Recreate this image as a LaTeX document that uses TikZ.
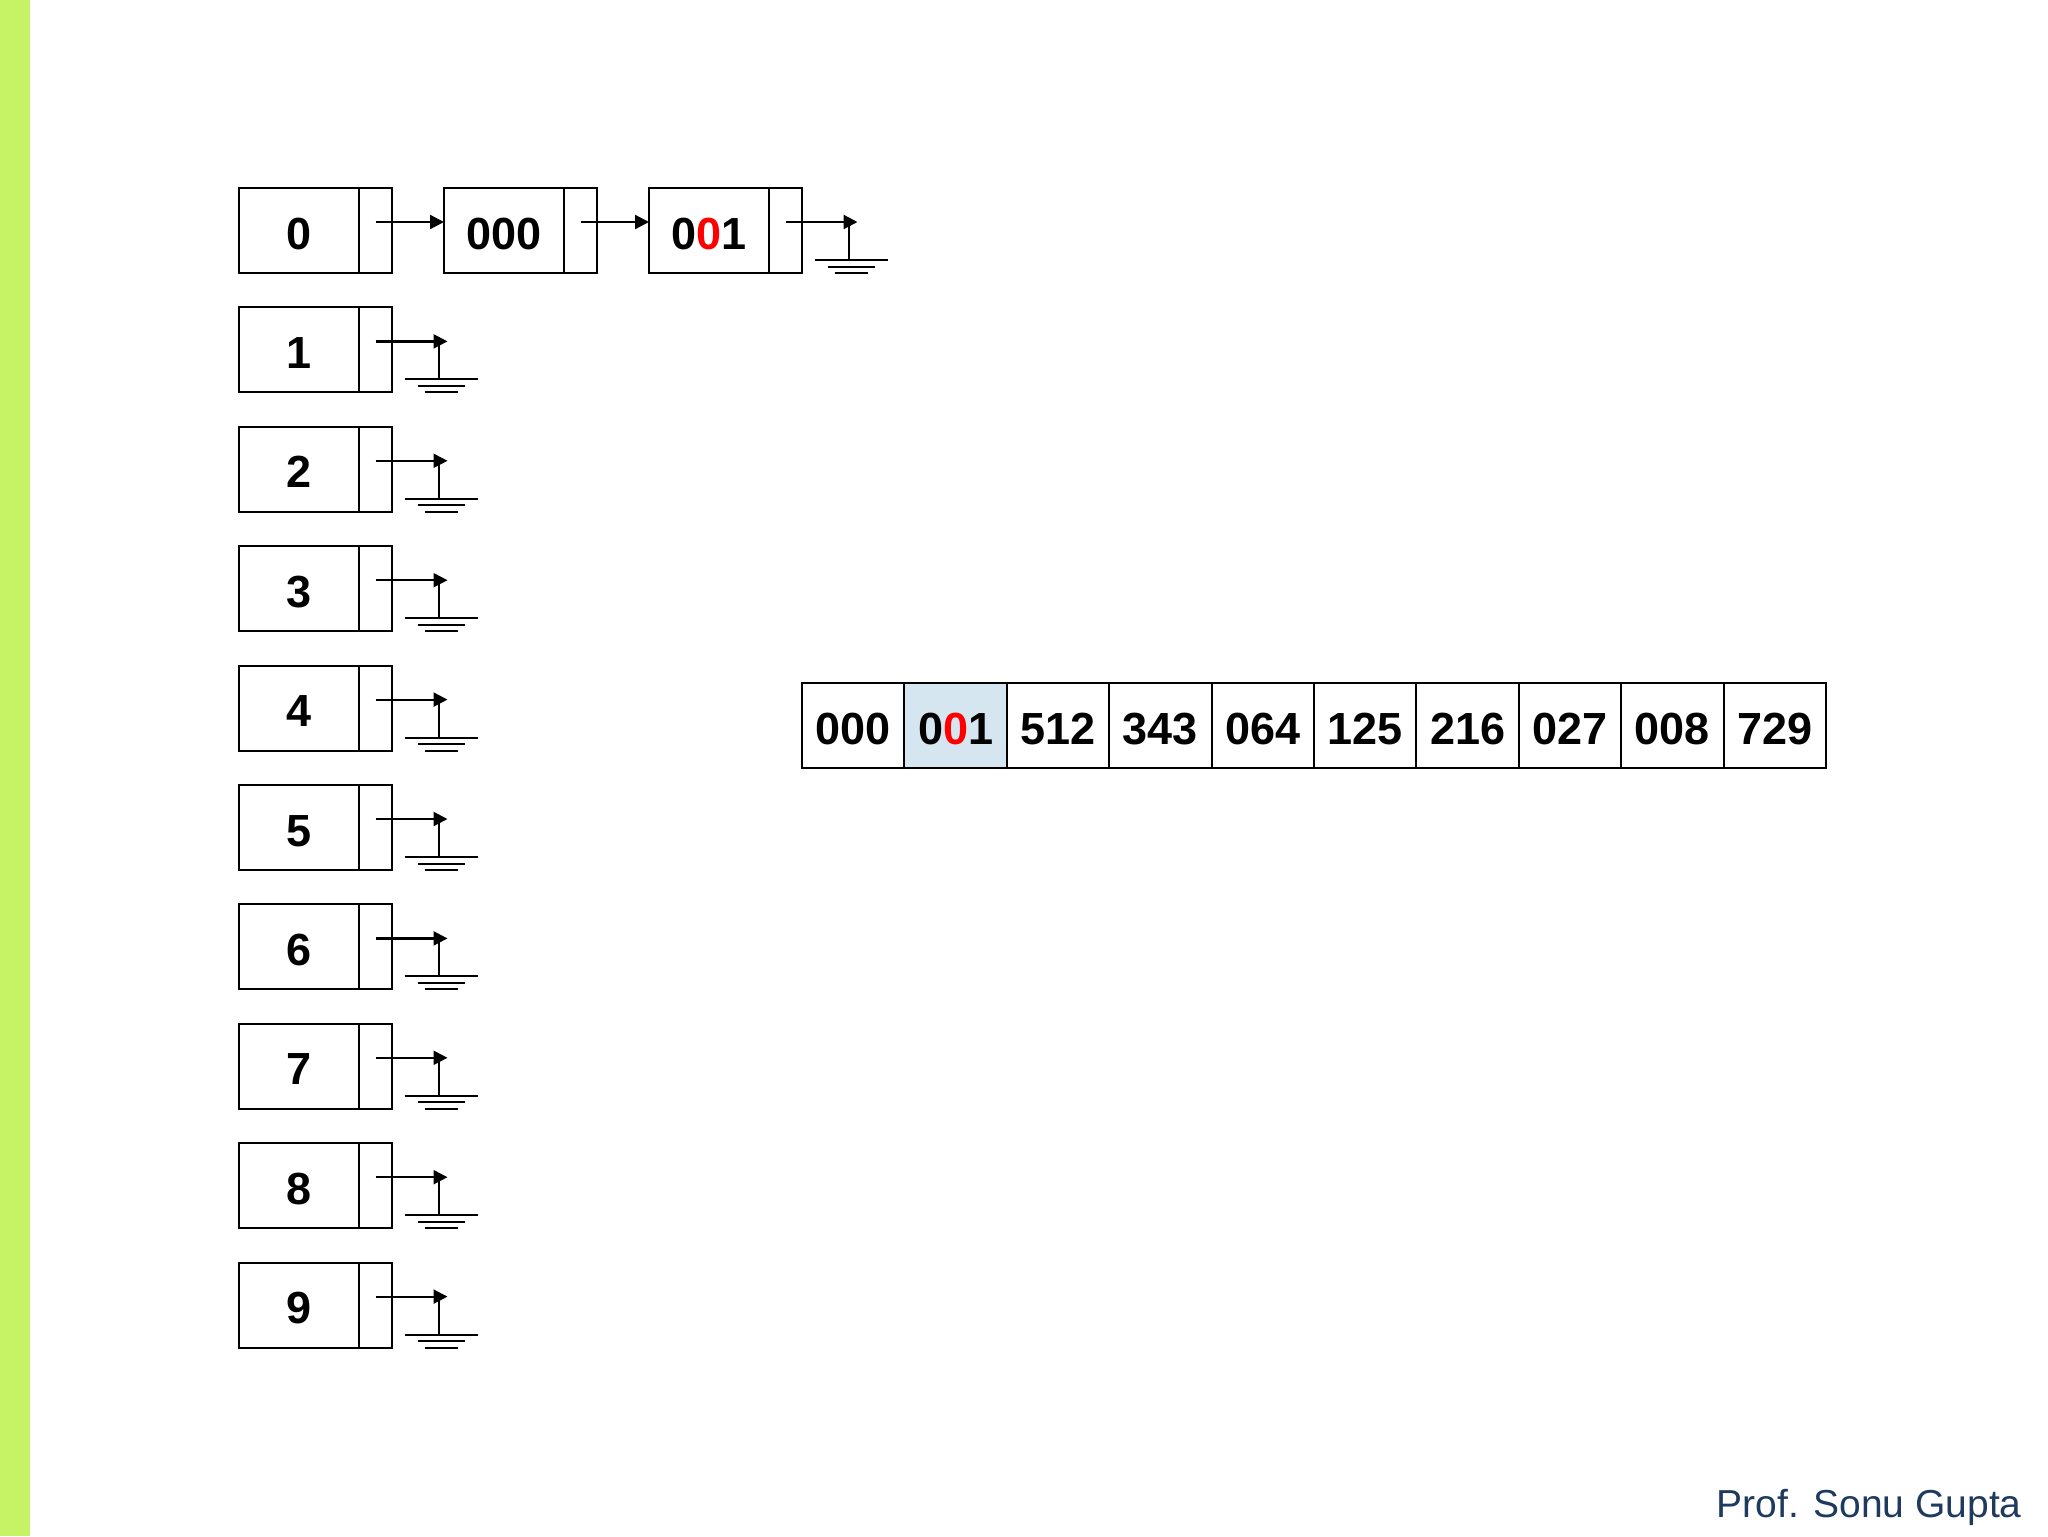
\documentclass[tikz,border=0pt]{standalone}
\usepackage{fontspec}
\setmainfont{Liberation Sans}
\usepackage{xcolor}
\usepackage{tikz}
\usetikzlibrary{arrows.meta,positioning,calc}
\definecolor{barlime}{RGB}{198,242,102}
\definecolor{hilite}{RGB}{214,230,241}
\definecolor{footblue}{RGB}{30,58,95}

\begin{document}
\begin{tikzpicture}[
    x=0.5pt, y=-0.5pt,
    font=\bfseries\fontsize{22.5}{27}\selectfont,
    datacell/.style={rectangle, draw=black, line width=1pt, outer sep=0pt, inner sep=0pt, minimum width=60pt, minimum height=42.5pt, text height=18.6pt, text depth=0pt},
    ptrcell/.style={rectangle, draw=black, line width=1pt, outer sep=0pt, inner sep=0pt, minimum width=16.5pt, minimum height=42.5pt},
    slot/.style={rectangle, draw=black, line width=1pt, outer sep=0pt, inner sep=0pt, minimum width=51.2pt, minimum height=42.5pt, text height=18.6pt, text depth=0pt},
    arrow/.style={-{Triangle[length=7pt,width=7pt]}, line width=1.1pt},
    earth/.style={line width=1pt},
]
\useasboundingbox (0,0) rectangle (2048,1536);
\fill[barlime] (0,0) rectangle (30,1536);

% buckets 0..9
\foreach \k in {0,...,9} {
  \node[datacell] (b\k) at (299, 230.5+119.4*\k) {\k};
  \node[ptrcell, right=0pt of b\k] (p\k) {};
}

% chain of bucket 0
\node[datacell, right=26pt of p0] (n1) {000};
\node[ptrcell, right=0pt of n1] (q1) {};
\node[datacell, right=26pt of q1] (n2) {0\textcolor{red}{0}1};
\node[ptrcell, right=0pt of n2] (q2) {};
\draw[arrow] ([yshift=4.25pt]p0.center) -- ([yshift=4.25pt]n1.west);
\draw[arrow] ([yshift=4.25pt]q1.center) -- ([yshift=4.25pt]n2.west);

% null pointers
\foreach \p in {q2,p1,p2,p3,p4,p5,p6,p7,p8,p9} {
  \coordinate (g\p) at ([xshift=36pt,yshift=4.25pt]\p.center);
  \draw[arrow] ([yshift=4.25pt]\p.center) -- (g\p);
  \draw[earth, shift={(g\p)}] (-9,0) -- (-9,38)
    (-43,38) -- (30,38) (-30,44.5) -- (17,44.5) (-23,51) -- (10,51);
}

% array
\node[slot] (a0) at (853.2,725.5) {000};
\node[slot, fill=hilite, right=0pt of a0] (a1) {0\textcolor{red}{0}1};
\foreach \v [count=\i from 2, remember=\i as \j (initially 1)] in {512,343,064,125,216,027,008,729}
  \node[slot, right=0pt of a\j] (a\i) {\v};

\node[anchor=base east, font=\normalfont\fontsize{19.5}{23}\selectfont, text=footblue, inner sep=0pt] (author) at (2022,1517) {Prof. Sonu Gupta};
\end{tikzpicture}
\end{document}
